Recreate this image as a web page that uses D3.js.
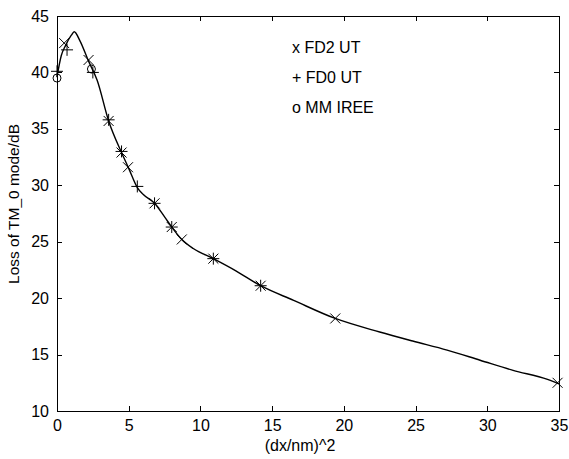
<!DOCTYPE html>
<html lang="en">
<head>
    <meta charset="UTF-8">
    <title>Loss of TM_0 mode</title>
    <script src="https://cdn.jsdelivr.net/npm/d3@7"></script>
    <style type="text/css">
        html, body {
            margin: 0;
            padding: 0;
            background: white;
        }
        text {
            font-family: "Liberation Sans", Arial, sans-serif;
            fill: black;
        }
        .axis path, .axis line {
            stroke: black;
            shape-rendering: crispEdges;
        }
        .axis text {
            font-size: 16px;
        }
    </style>
</head>
<body>
<svg id="chart" width="569" height="459"></svg>
<script>
    // curve (solid line)
    var curveX = [0, 0.3, 0.6, 1.0, 1.2, 1.6, 2.2, 2.8, 3.6, 4.5, 5.0, 5.6, 6.0, 6.8, 7.5, 8.0, 8.7, 9.5, 10.9, 12.5, 14.2, 16.5, 19.4, 22.5, 24.8, 27.2, 29.5, 31.8, 34.2, 35];
    var curveY = [39.6, 41.5, 42.4, 43.3, 43.6, 42.8, 41.0, 39.3, 35.7, 32.9, 31.5, 29.8, 29.2, 28.4, 27.2, 26.3, 25.2, 24.4, 23.5, 22.4, 21.1, 19.8, 18.2, 17.0, 16.2, 15.4, 14.5, 13.6, 12.8, 12.4];

    // FD2 UT (x markers)
    var fd2X = [0.5, 2.2, 3.6, 4.5, 4.95, 6.8, 8.0, 8.7, 10.9, 14.2, 19.4, 34.9];
    var fd2Y = [42.6, 41.1, 35.7, 32.9, 31.6, 28.4, 26.3, 25.2, 23.5, 21.1, 18.2, 12.5];

    // FD0 UT (+ markers)
    var fd0X = [0, 0.7, 2.5, 3.6, 4.5, 5.6, 6.8, 8.0, 10.9, 14.2];
    var fd0Y = [40.1, 42.0, 40.0, 35.8, 33.0, 29.9, 28.4, 26.3, 23.5, 21.1];

    // MM IREE (o markers)
    var mmX = [0, 2.4];
    var mmY = [39.5, 40.3];

    var xTicks = [0, 5, 10, 15, 20, 25, 30, 35];
    var yTicks = [10, 15, 20, 25, 30, 35, 40, 45];

    var legendLabels = ["x FD2 UT", "+ FD0 UT", "o MM IREE"];

    var svg = d3.select("#chart"),
        margin = {top: 16, right: 10, bottom: 48, left: 57},
        width = +svg.attr("width") - margin.left - margin.right,
        height = +svg.attr("height") - margin.top - margin.bottom;

    var x = d3.scaleLinear().domain([0, 35]).range([0, width]),
        y = d3.scaleLinear().domain([10, 45]).range([height, 0]);

    var g = svg.append("g")
        .attr("transform", "translate(" + margin.left + "," + margin.top + ")");

    // frame
    g.append("rect")
        .attr("width", width)
        .attr("height", height)
        .attr("fill", "none")
        .attr("stroke", "black")
        .attr("shape-rendering", "crispEdges");

    // axes, ticks pointing inward like matlab
    g.append("g")
        .attr("class", "axis")
        .attr("transform", "translate(0," + height + ")")
        .call(d3.axisBottom(x).tickValues(xTicks).tickSize(-5).tickPadding(9).tickSizeOuter(0))
        .call(a => a.select(".domain").remove());

    g.append("g")
        .attr("class", "axis")
        .call(d3.axisTop(x).tickValues(xTicks).tickSize(-5).tickFormat("").tickSizeOuter(0))
        .call(a => a.select(".domain").remove());

    g.append("g")
        .attr("class", "axis")
        .call(d3.axisLeft(y).tickValues(yTicks).tickSize(-5).tickPadding(8).tickSizeOuter(0))
        .call(a => a.select(".domain").remove());

    g.append("g")
        .attr("class", "axis")
        .attr("transform", "translate(" + width + ",0)")
        .call(d3.axisRight(y).tickValues(yTicks).tickSize(-5).tickFormat("").tickSizeOuter(0))
        .call(a => a.select(".domain").remove());

    // axis titles
    svg.append("text")
        .attr("x", 300)
        .attr("y", 451)
        .attr("text-anchor", "middle")
        .style("font-size", "16px")
        .text("(dx/nm)^2");

    svg.append("text")
        .attr("transform", "translate(19,204) rotate(-90)")
        .attr("text-anchor", "middle")
        .style("font-size", "15.5px")
        .text("Loss of TM_0 mode/dB");

    // curve
    var curve = d3.range(curveX.length).map(i => [curveX[i], curveY[i]]);
    g.append("path")
        .datum(curve)
        .attr("fill", "none")
        .attr("stroke", "black")
        .attr("stroke-width", 1.4)
        .attr("d", d3.line().x(d => x(d[0])).y(d => y(d[1])).curve(d3.curveMonotoneX));

    // markers
    var s = 5;
    g.selectAll(".fd2")
        .data(d3.range(fd2X.length))
        .enter().append("path")
        .attr("class", "fd2")
        .attr("transform", i => "translate(" + x(fd2X[i]) + "," + y(fd2Y[i]) + ")")
        .attr("d", "M" + -s + "," + -s + "L" + s + "," + s + "M" + -s + "," + s + "L" + s + "," + -s)
        .attr("stroke", "black")
        .attr("stroke-width", 1);

    g.selectAll(".fd0")
        .data(d3.range(fd0X.length))
        .enter().append("path")
        .attr("class", "fd0")
        .attr("transform", i => "translate(" + x(fd0X[i]) + "," + y(fd0Y[i]) + ")")
        .attr("d", "M" + -6 + ",0L6,0M0," + -6 + "L0,6")
        .attr("stroke", "black")
        .attr("stroke-width", 1);

    g.selectAll(".mm")
        .data(d3.range(mmX.length))
        .enter().append("circle")
        .attr("class", "mm")
        .attr("cx", i => x(mmX[i]))
        .attr("cy", i => y(mmY[i]))
        .attr("r", 4)
        .attr("fill", "none")
        .attr("stroke", "black")
        .attr("stroke-width", 1);

    // legend
    g.selectAll(".legend")
        .data(legendLabels)
        .enter().append("text")
        .attr("class", "legend")
        .attr("x", 235)
        .attr("y", (d, i) => 37 + i * 30)
        .style("font-size", "16px")
        .text(d => d);
</script>
</body>
</html>
